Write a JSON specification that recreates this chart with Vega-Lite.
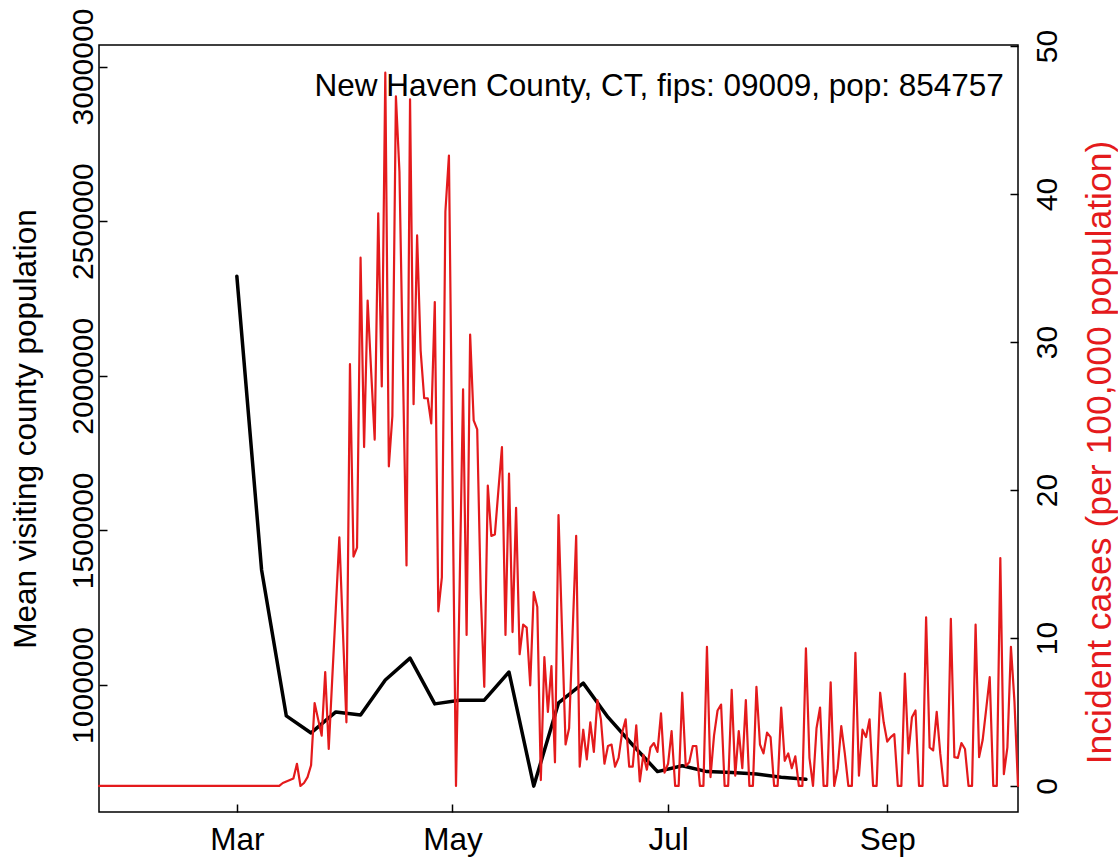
{
  "$schema": "https://vega.github.io/schema/vega-lite/v6.json",
  "width": 919,
  "height": 767,
  "autosize": {"type": "none"},
  "padding": {"left": 99, "top": 45, "right": 100, "bottom": 46},
  "background": "white",
  "config": {
    "view": {"stroke": "black", "strokeWidth": 1.5},
    "axis": {
      "domain": false, "grid": false,
      "labelFont": "Liberation Sans", "titleFont": "Liberation Sans",
      "labelFontSize": 30, "titleFontSize": 31.5, "titleFontWeight": "normal",
      "labelColor": "black", "titleColor": "black",
      "tickColor": "black", "tickWidth": 1.5, "tickSize": -8,
      "labelOverlap": false
    }
  },
  "datasets": {
    "visitors": [
      {"date": "2020-03-01", "visitors": 2322000},
      {"date": "2020-03-08", "visitors": 1372000},
      {"date": "2020-03-15", "visitors": 900000},
      {"date": "2020-03-22", "visitors": 845000},
      {"date": "2020-03-29", "visitors": 913000},
      {"date": "2020-04-05", "visitors": 903000},
      {"date": "2020-04-12", "visitors": 1016000},
      {"date": "2020-04-19", "visitors": 1087000},
      {"date": "2020-04-26", "visitors": 939000},
      {"date": "2020-05-03", "visitors": 951000},
      {"date": "2020-05-10", "visitors": 951000},
      {"date": "2020-05-17", "visitors": 1042000},
      {"date": "2020-05-24", "visitors": 673000},
      {"date": "2020-05-31", "visitors": 942000},
      {"date": "2020-06-07", "visitors": 1006000},
      {"date": "2020-06-14", "visitors": 896000},
      {"date": "2020-06-21", "visitors": 806000},
      {"date": "2020-06-28", "visitors": 720000},
      {"date": "2020-07-05", "visitors": 739000},
      {"date": "2020-07-12", "visitors": 720000},
      {"date": "2020-07-19", "visitors": 717000},
      {"date": "2020-07-26", "visitors": 712000},
      {"date": "2020-08-02", "visitors": 702000},
      {"date": "2020-08-09", "visitors": 695000}
    ],
    "cases": [
      {"date": "2020-01-22", "cases": 0}, {"date": "2020-01-23", "cases": 0}, {"date": "2020-01-24", "cases": 0}, {"date": "2020-01-25", "cases": 0}, {"date": "2020-01-26", "cases": 0},
      {"date": "2020-01-27", "cases": 0}, {"date": "2020-01-28", "cases": 0}, {"date": "2020-01-29", "cases": 0}, {"date": "2020-01-30", "cases": 0}, {"date": "2020-01-31", "cases": 0},
      {"date": "2020-02-01", "cases": 0}, {"date": "2020-02-02", "cases": 0}, {"date": "2020-02-03", "cases": 0}, {"date": "2020-02-04", "cases": 0}, {"date": "2020-02-05", "cases": 0},
      {"date": "2020-02-06", "cases": 0}, {"date": "2020-02-07", "cases": 0}, {"date": "2020-02-08", "cases": 0}, {"date": "2020-02-09", "cases": 0}, {"date": "2020-02-10", "cases": 0},
      {"date": "2020-02-11", "cases": 0}, {"date": "2020-02-12", "cases": 0}, {"date": "2020-02-13", "cases": 0}, {"date": "2020-02-14", "cases": 0}, {"date": "2020-02-15", "cases": 0},
      {"date": "2020-02-16", "cases": 0}, {"date": "2020-02-17", "cases": 0}, {"date": "2020-02-18", "cases": 0}, {"date": "2020-02-19", "cases": 0}, {"date": "2020-02-20", "cases": 0},
      {"date": "2020-02-21", "cases": 0}, {"date": "2020-02-22", "cases": 0}, {"date": "2020-02-23", "cases": 0}, {"date": "2020-02-24", "cases": 0}, {"date": "2020-02-25", "cases": 0},
      {"date": "2020-02-26", "cases": 0}, {"date": "2020-02-27", "cases": 0}, {"date": "2020-02-28", "cases": 0}, {"date": "2020-02-29", "cases": 0},
      {"date": "2020-03-01", "cases": 0}, {"date": "2020-03-02", "cases": 0}, {"date": "2020-03-03", "cases": 0}, {"date": "2020-03-04", "cases": 0}, {"date": "2020-03-05", "cases": 0},
      {"date": "2020-03-06", "cases": 0}, {"date": "2020-03-07", "cases": 0}, {"date": "2020-03-08", "cases": 0}, {"date": "2020-03-09", "cases": 0}, {"date": "2020-03-10", "cases": 0},
      {"date": "2020-03-11", "cases": 0}, {"date": "2020-03-12", "cases": 0}, {"date": "2020-03-13", "cases": 0},
      {"date": "2020-03-14", "cases": 0.2}, {"date": "2020-03-15", "cases": 0.3}, {"date": "2020-03-16", "cases": 0.4}, {"date": "2020-03-17", "cases": 0.5},
      {"date": "2020-03-18", "cases": 1.5}, {"date": "2020-03-19", "cases": 0}, {"date": "2020-03-20", "cases": 0.2}, {"date": "2020-03-21", "cases": 0.6},
      {"date": "2020-03-22", "cases": 1.4}, {"date": "2020-03-23", "cases": 5.6}, {"date": "2020-03-24", "cases": 4.5}, {"date": "2020-03-25", "cases": 3.4},
      {"date": "2020-03-26", "cases": 7.7}, {"date": "2020-03-27", "cases": 2.5}, {"date": "2020-03-28", "cases": 7.3}, {"date": "2020-03-29", "cases": 12},
      {"date": "2020-03-30", "cases": 16.8}, {"date": "2020-03-31", "cases": 10.5},
      {"date": "2020-04-01", "cases": 4.3}, {"date": "2020-04-02", "cases": 28.5}, {"date": "2020-04-03", "cases": 15.5}, {"date": "2020-04-04", "cases": 16.1},
      {"date": "2020-04-05", "cases": 35.7}, {"date": "2020-04-06", "cases": 22.9}, {"date": "2020-04-07", "cases": 32.8}, {"date": "2020-04-08", "cases": 28},
      {"date": "2020-04-09", "cases": 23.4}, {"date": "2020-04-10", "cases": 38.7}, {"date": "2020-04-11", "cases": 27}, {"date": "2020-04-12", "cases": 48.2},
      {"date": "2020-04-13", "cases": 21.6}, {"date": "2020-04-14", "cases": 25}, {"date": "2020-04-15", "cases": 46.6}, {"date": "2020-04-16", "cases": 41.5},
      {"date": "2020-04-17", "cases": 28}, {"date": "2020-04-18", "cases": 14.9}, {"date": "2020-04-19", "cases": 46.4}, {"date": "2020-04-20", "cases": 25.8},
      {"date": "2020-04-21", "cases": 37.2}, {"date": "2020-04-22", "cases": 29.4}, {"date": "2020-04-23", "cases": 26.2}, {"date": "2020-04-24", "cases": 26.2},
      {"date": "2020-04-25", "cases": 24.5}, {"date": "2020-04-26", "cases": 32.7}, {"date": "2020-04-27", "cases": 11.8}, {"date": "2020-04-28", "cases": 14.1},
      {"date": "2020-04-29", "cases": 38.8}, {"date": "2020-04-30", "cases": 42.6},
      {"date": "2020-05-01", "cases": 21}, {"date": "2020-05-02", "cases": 0}, {"date": "2020-05-03", "cases": 13}, {"date": "2020-05-04", "cases": 26.8},
      {"date": "2020-05-05", "cases": 10.2}, {"date": "2020-05-06", "cases": 30.5}, {"date": "2020-05-07", "cases": 24.7}, {"date": "2020-05-08", "cases": 24.1},
      {"date": "2020-05-09", "cases": 13}, {"date": "2020-05-10", "cases": 6.7}, {"date": "2020-05-11", "cases": 20.3}, {"date": "2020-05-12", "cases": 16.9},
      {"date": "2020-05-13", "cases": 17}, {"date": "2020-05-14", "cases": 20}, {"date": "2020-05-15", "cases": 22.9}, {"date": "2020-05-16", "cases": 10.2},
      {"date": "2020-05-17", "cases": 21.1}, {"date": "2020-05-18", "cases": 10.4}, {"date": "2020-05-19", "cases": 18.8}, {"date": "2020-05-20", "cases": 8.9},
      {"date": "2020-05-21", "cases": 10.9}, {"date": "2020-05-22", "cases": 10.7}, {"date": "2020-05-23", "cases": 6.8}, {"date": "2020-05-24", "cases": 13.1},
      {"date": "2020-05-25", "cases": 12.1}, {"date": "2020-05-26", "cases": 0.4}, {"date": "2020-05-27", "cases": 8.7}, {"date": "2020-05-28", "cases": 5.0},
      {"date": "2020-05-29", "cases": 8.1}, {"date": "2020-05-30", "cases": 1.6}, {"date": "2020-05-31", "cases": 18.3},
      {"date": "2020-06-01", "cases": 10.5}, {"date": "2020-06-02", "cases": 2.8}, {"date": "2020-06-03", "cases": 3.9}, {"date": "2020-06-04", "cases": 10.4},
      {"date": "2020-06-05", "cases": 16.9}, {"date": "2020-06-06", "cases": 1.3}, {"date": "2020-06-07", "cases": 3.8}, {"date": "2020-06-08", "cases": 1.8},
      {"date": "2020-06-09", "cases": 4.3}, {"date": "2020-06-10", "cases": 2.3}, {"date": "2020-06-11", "cases": 5.8}, {"date": "2020-06-12", "cases": 4.5},
      {"date": "2020-06-13", "cases": 1.5}, {"date": "2020-06-14", "cases": 2.7}, {"date": "2020-06-15", "cases": 2.8}, {"date": "2020-06-16", "cases": 1.3},
      {"date": "2020-06-17", "cases": 1.9}, {"date": "2020-06-18", "cases": 3.6}, {"date": "2020-06-19", "cases": 4.5}, {"date": "2020-06-20", "cases": 1.3},
      {"date": "2020-06-21", "cases": 1.3}, {"date": "2020-06-22", "cases": 4.1}, {"date": "2020-06-23", "cases": 0.3}, {"date": "2020-06-24", "cases": 2.1},
      {"date": "2020-06-25", "cases": 1.1}, {"date": "2020-06-26", "cases": 2.6}, {"date": "2020-06-27", "cases": 2.9}, {"date": "2020-06-28", "cases": 2.3},
      {"date": "2020-06-29", "cases": 4.9}, {"date": "2020-06-30", "cases": 0.9},
      {"date": "2020-07-01", "cases": 1.5}, {"date": "2020-07-02", "cases": 3.7}, {"date": "2020-07-03", "cases": 0}, {"date": "2020-07-04", "cases": 0},
      {"date": "2020-07-05", "cases": 6.3}, {"date": "2020-07-06", "cases": 1.35}, {"date": "2020-07-07", "cases": 1.6}, {"date": "2020-07-08", "cases": 2.7},
      {"date": "2020-07-09", "cases": 2.7}, {"date": "2020-07-10", "cases": 0}, {"date": "2020-07-11", "cases": 0}, {"date": "2020-07-12", "cases": 9.4},
      {"date": "2020-07-13", "cases": 0.6}, {"date": "2020-07-14", "cases": 3.4}, {"date": "2020-07-15", "cases": 5.1}, {"date": "2020-07-16", "cases": 5.5},
      {"date": "2020-07-17", "cases": 0}, {"date": "2020-07-18", "cases": 0}, {"date": "2020-07-19", "cases": 6.5}, {"date": "2020-07-20", "cases": 0.7},
      {"date": "2020-07-21", "cases": 3.7}, {"date": "2020-07-22", "cases": 1.2}, {"date": "2020-07-23", "cases": 5.8}, {"date": "2020-07-24", "cases": 0},
      {"date": "2020-07-25", "cases": 0}, {"date": "2020-07-26", "cases": 6.7}, {"date": "2020-07-27", "cases": 2.8}, {"date": "2020-07-28", "cases": 2.2},
      {"date": "2020-07-29", "cases": 3.6}, {"date": "2020-07-30", "cases": 3.3}, {"date": "2020-07-31", "cases": 0},
      {"date": "2020-08-01", "cases": 0}, {"date": "2020-08-02", "cases": 5.3}, {"date": "2020-08-03", "cases": 1.7}, {"date": "2020-08-04", "cases": 2.2},
      {"date": "2020-08-05", "cases": 1.2}, {"date": "2020-08-06", "cases": 2.0}, {"date": "2020-08-07", "cases": 0}, {"date": "2020-08-08", "cases": 0},
      {"date": "2020-08-09", "cases": 9.3}, {"date": "2020-08-10", "cases": 1.9}, {"date": "2020-08-11", "cases": 0}, {"date": "2020-08-12", "cases": 3.9},
      {"date": "2020-08-13", "cases": 5.3}, {"date": "2020-08-14", "cases": 0}, {"date": "2020-08-15", "cases": 0}, {"date": "2020-08-16", "cases": 7.0},
      {"date": "2020-08-17", "cases": 0}, {"date": "2020-08-18", "cases": 1.2}, {"date": "2020-08-19", "cases": 4.05}, {"date": "2020-08-20", "cases": 2.2},
      {"date": "2020-08-21", "cases": 0}, {"date": "2020-08-22", "cases": 0}, {"date": "2020-08-23", "cases": 9.0}, {"date": "2020-08-24", "cases": 0.7},
      {"date": "2020-08-25", "cases": 3.8}, {"date": "2020-08-26", "cases": 3.3}, {"date": "2020-08-27", "cases": 4.5}, {"date": "2020-08-28", "cases": 0},
      {"date": "2020-08-29", "cases": 0}, {"date": "2020-08-30", "cases": 6.3}, {"date": "2020-08-31", "cases": 4.3},
      {"date": "2020-09-01", "cases": 3.0}, {"date": "2020-09-02", "cases": 3.3}, {"date": "2020-09-03", "cases": 3.5}, {"date": "2020-09-04", "cases": 0},
      {"date": "2020-09-05", "cases": 0}, {"date": "2020-09-06", "cases": 7.6}, {"date": "2020-09-07", "cases": 2.2}, {"date": "2020-09-08", "cases": 4.65},
      {"date": "2020-09-09", "cases": 5.1}, {"date": "2020-09-10", "cases": 0}, {"date": "2020-09-11", "cases": 0}, {"date": "2020-09-12", "cases": 11.4},
      {"date": "2020-09-13", "cases": 2.6}, {"date": "2020-09-14", "cases": 2.4}, {"date": "2020-09-15", "cases": 5.0}, {"date": "2020-09-16", "cases": 2.2},
      {"date": "2020-09-17", "cases": 0}, {"date": "2020-09-18", "cases": 0}, {"date": "2020-09-19", "cases": 11.3}, {"date": "2020-09-20", "cases": 1.95},
      {"date": "2020-09-21", "cases": 1.9}, {"date": "2020-09-22", "cases": 2.9}, {"date": "2020-09-23", "cases": 2.5}, {"date": "2020-09-24", "cases": 0},
      {"date": "2020-09-25", "cases": 0}, {"date": "2020-09-26", "cases": 10.9}, {"date": "2020-09-27", "cases": 1.95}, {"date": "2020-09-28", "cases": 3.1},
      {"date": "2020-09-29", "cases": 5.2}, {"date": "2020-09-30", "cases": 7.35},
      {"date": "2020-10-01", "cases": 0}, {"date": "2020-10-02", "cases": 0}, {"date": "2020-10-03", "cases": 15.4}, {"date": "2020-10-04", "cases": 0.8},
      {"date": "2020-10-05", "cases": 2.6}, {"date": "2020-10-06", "cases": 9.4}, {"date": "2020-10-07", "cases": 5.7}, {"date": "2020-10-08", "cases": 0}
    ]
  },
  "layer": [
    {
      "data": {"name": "visitors", "format": {"parse": {"date": "date:'%Y-%m-%d'"}}},
      "mark": {"type": "line", "color": "black", "strokeWidth": 3.5, "strokeJoin": "round", "strokeCap": "round"},
      "encoding": {
        "x": {
          "field": "date", "type": "temporal",
          "scale": {"domain": [{"year": 2020, "month": 1, "date": 22}, {"year": 2020, "month": 10, "date": 8}]},
          "axis": {
            "title": null, "format": "%b",
            "values": [{"year": 2020, "month": 3, "date": 1}, {"year": 2020, "month": 5, "date": 1}, {"year": 2020, "month": 7, "date": 1}, {"year": 2020, "month": 9, "date": 1}],
            "labelFontSize": 31.5,
            "labelBaseline": "top", "labelAlign": "center", "labelPadding": 20
          }
        },
        "y": {
          "field": "visitors", "type": "quantitative",
          "scale": {"domain": [589300, 3069800], "nice": false, "zero": false},
          "axis": {
            "orient": "left", "title": "Mean visiting county population",
            "values": [1000000, 1500000, 2000000, 2500000, 3000000], "format": "d",
            "labelAngle": 270, "labelAlign": "center", "labelBaseline": "alphabetic", "labelPadding": 15,
            "titleAngle": 270, "titleAlign": "center", "titleBaseline": "alphabetic", "titleX": -63.5, "titleY": 383.5
          }
        }
      }
    },
    {
      "data": {"values": [{"label": "New Haven County, CT, fips: 09009, pop: 854757"}]},
      "mark": {"type": "text", "font": "Liberation Sans", "fontSize": 31.5, "align": "right", "baseline": "alphabetic", "color": "black"},
      "encoding": {
        "x": {"datum": {"year": 2020, "month": 10, "date": 4}, "type": "temporal"},
        "y": {"datum": 46.6, "type": "quantitative", "scale": {"domain": [-1.76, 50.07], "nice": false, "zero": false}, "axis": null},
        "text": {"field": "label"}
      }
    },
    {
      "data": {"name": "cases", "format": {"parse": {"date": "date:'%Y-%m-%d'"}}},
      "mark": {"type": "line", "color": "#e41a1c", "strokeWidth": 2.2, "strokeJoin": "round", "strokeCap": "round"},
      "encoding": {
        "x": {"field": "date", "type": "temporal"},
        "y": {
          "field": "cases", "type": "quantitative",
          "scale": {"domain": [-1.76, 50.07], "nice": false, "zero": false},
          "axis": {
            "orient": "right", "title": "Incident cases (per 100,000 population)", "titleColor": "#e41a1c",
            "titleFontSize": 35.5,
            "values": [0, 10, 20, 30, 40, 50],
            "labelAngle": 270, "labelAlign": "center", "labelBaseline": "top", "labelPadding": 22,
            "titleAngle": 270, "titleAlign": "center", "titleBaseline": "alphabetic", "titleX": 92, "titleY": 407
          }
        }
      }
    }
  ],
  "resolve": {"scale": {"y": "independent"}}
}
